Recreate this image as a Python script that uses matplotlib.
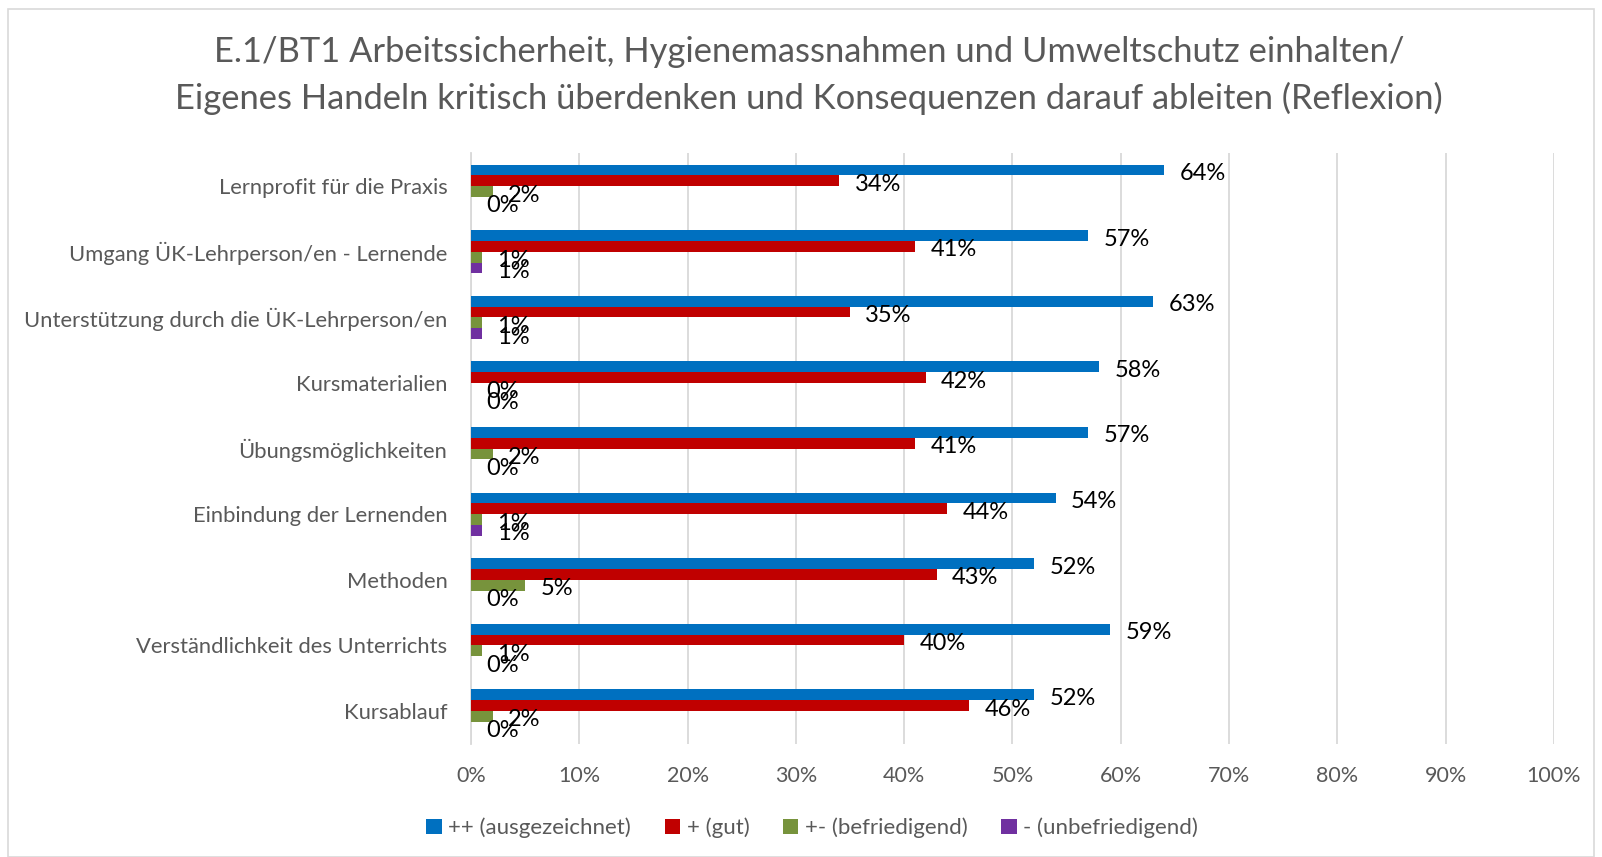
import numpy as np
import matplotlib.pyplot as plt
from matplotlib.patches import Rectangle

# data, top to bottom as in the chart
categories = ["Lernprofit für die Praxis",
              "Umgang ÜK-Lehrperson/en - Lernende",
              "Unterstützung durch die ÜK-Lehrperson/en",
              "Kursmaterialien",
              "Übungsmöglichkeiten",
              "Einbindung der Lernenden",
              "Methoden",
              "Verständlichkeit des Unterrichts",
              "Kursablauf"]
ausgezeichnet = [64, 57, 63, 58, 57, 54, 52, 59, 52]
gut = [34, 41, 35, 42, 41, 44, 43, 40, 46]
befriedigend = [2, 1, 1, 0, 2, 1, 5, 1, 2]
unbefriedigend = [0, 1, 1, 0, 0, 1, 0, 0, 0]

series = [("++ (ausgezeichnet)", ausgezeichnet, "#0070C0"),
          ("+ (gut)", gut, "#C00000"),
          ("+- (befriedigend)", befriedigend, "#77933C"),
          ("- (unbefriedigend)", unbefriedigend, "#7030A0")]

plt.rcParams['font.family'] = ['Lato', 'DejaVu Sans']
grey = "#595959"

fig = plt.figure(figsize=(16.02, 8.57), dpi=100)
ax = fig.add_axes([0.294, 0.132, 0.676, 0.689])

y = np.arange(len(categories))
h = 0.165
for i, (name, vals, col) in enumerate(series):
    off = (i - 1.5) * h
    ax.barh(y + off, vals, height=h, color=col, label=name, zorder=3)
    for yy, v in zip(y + off, vals):
        ax.annotate(f"{v}%", (v, yy), xytext=(11, -2.5), textcoords="offset points",
                    ha="left", va="center", fontsize=17, color="black", zorder=4)

ax.set_xlim(0, 100)
ax.set_ylim(len(categories) - 0.5, -0.5)
ax.set_xticks(np.arange(0, 101, 10))
ax.set_xticklabels([f"{t}%" for t in range(0, 101, 10)])
ax.set_yticks(y)
ax.set_yticklabels(categories, fontsize=15.8)
ax.tick_params(axis='both', length=0, colors=grey)
ax.tick_params(axis='x', pad=16, labelsize=15.5)
ax.tick_params(axis='y', pad=17)
ax.grid(axis='x', color="#D9D9D9", linewidth=1.3, zorder=0)
for s in ["top", "right", "bottom"]:
    ax.spines[s].set_visible(False)
ax.spines["left"].set_color("#D9D9D9")
ax.spines["left"].set_linewidth(1.3)

fig.text(0.505, 0.912, "E.1/BT1 Arbeitssicherheit, Hygienemassnahmen und Umweltschutz einhalten/\n"
         "Eigenes Handeln kritisch überdenken und Konsequenzen darauf ableiten (Reflexion)",
         ha="center", va="center", fontsize=24.8, color=grey, linespacing=1.5)

fig.legend(loc="center", bbox_to_anchor=(0.507, 0.034), ncol=4, frameon=False,
           fontsize=16, labelcolor=grey, handlelength=0.7, handleheight=0.7,
           handletextpad=0.3, columnspacing=1.5)

fig.patches.append(Rectangle((0.005, 0.0), 0.99, 0.99, transform=fig.transFigure,
                             fill=False, edgecolor="#D9D9D9", linewidth=1.2))

fig.savefig("out.png", dpi=100)
